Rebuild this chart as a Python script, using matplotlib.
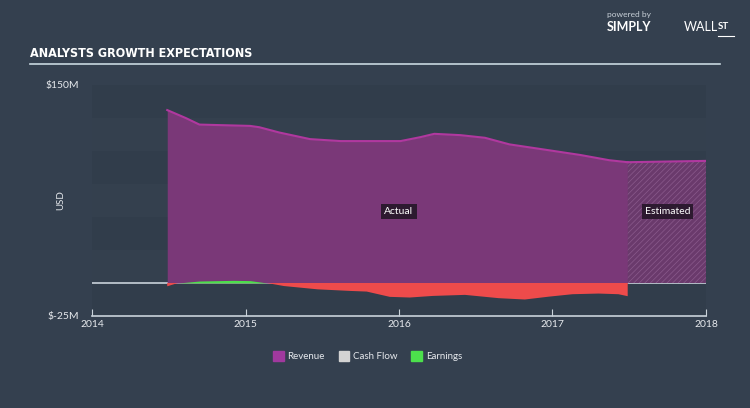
import matplotlib.pyplot as plt
from matplotlib import font_manager as fm
import numpy as np

# Revenue (USD millions), actual history and analyst estimate
rev_years = [2014.49, 2014.61, 2014.70, 2015.03, 2015.09, 2015.22, 2015.42, 2015.62,
             2016.01, 2016.14, 2016.23, 2016.40, 2016.56, 2016.72, 2016.98, 2017.18,
             2017.37, 2017.49]
rev_values = [131, 125, 120, 119, 118, 114, 109, 107.5,
              107.5, 110.5, 113, 112, 110, 105, 100.5, 97,
              93, 91.5]
est_years = [2017.49, 2018.0]
est_values = [91.5, 92.5]

# Earnings (USD millions)
earn_years = [2014.49, 2014.56, 2014.70, 2014.92, 2015.03, 2015.14, 2015.25, 2015.47,
              2015.68, 2015.79, 2015.94, 2016.07, 2016.22, 2016.43, 2016.65, 2016.82,
              2016.98, 2017.13, 2017.30, 2017.43, 2017.49]
earn_values = [-2.5, 0, 1.5, 2, 1.8, 0, -2.3, -4.8,
               -6, -6.5, -10.5, -11, -9.8, -9, -11.5, -12.5,
               -10.3, -8.5, -8, -8.5, -10]

year_ticks = [2014, 2015, 2016, 2017, 2018]
legend_names = ['Revenue', 'Cash Flow', 'Earnings']

BG = '#34404f'
REV_FILL = '#7a3878'
REV_LINE = '#b0389f'
EARN_NEG = '#ee4b4b'
EARN_POS = '#4ce04c'
TXT = '#e6e9ed'

plt.rcParams['font.family'] = ['Lato', 'DejaVu Sans']
plt.rcParams['hatch.linewidth'] = 0.5

# narrow font for the header, if one is around
narrow = [f.name for f in fm.fontManager.ttflist
          if ('Narrow' in f.name or 'Condensed' in f.name or f.stretch == 'condensed')]
if narrow:
    title_font = dict(family=narrow[0], stretch='condensed', fontsize=9)
else:
    title_font = dict(family=['Roboto', 'DejaVu Sans'], fontsize=8.5)

fig = plt.figure(figsize=(7.5, 4.08), dpi=100, facecolor=BG)
ax = fig.add_axes([0.1227, 0.2255, 0.8186, 0.5662])
ax.set_facecolor(BG)

ax.set_xlim(2014, 2018)
ax.set_ylim(-25, 150)

# alternating horizontal bands
for i, lo in enumerate(np.arange(-25, 150, 25)):
    ax.axhspan(lo, lo + 25, color='#313d4b' if i % 2 == 0 else '#34404e', lw=0, zorder=0)

ax.axhline(0, color='#c9d2da', lw=1.2, zorder=1)

ry = np.array(rev_years)
rv = np.array(rev_values)
ax.fill_between(ry, 0, rv, color=REV_FILL, lw=0, zorder=2)
ax.plot(ry, rv, color=REV_LINE, lw=1.5, zorder=3)

ey = np.array(est_years)
ev = np.array(est_values)
ax.fill_between(ey, 0, ev, facecolor='#6a3a6c', edgecolor='#8a5a8c', hatch='//////',
                lw=0, zorder=2)
ax.plot(ey, ev, color=REV_LINE, lw=1.5, zorder=3)

eyr = np.array(earn_years)
evl = np.array(earn_values)
ax.fill_between(eyr, 0, evl, where=evl <= 0, interpolate=True, color=EARN_NEG, lw=0, zorder=4)
ax.fill_between(eyr, 0, evl, where=evl >= 0, interpolate=True, color=EARN_POS, lw=0, zorder=4)

ax.text(2016.0, 54, 'Actual', color='white', fontsize=7.5, ha='center', va='center',
        bbox=dict(boxstyle='square,pad=0.3', fc='#2d1a30', ec='none'), zorder=6)
ax.text(2017.75, 54, 'Estimated', color='white', fontsize=7.5, ha='center', va='center',
        bbox=dict(boxstyle='square,pad=0.3', fc='#2d1a30', ec='none'), zorder=6)

for s in ['top', 'right', 'left']:
    ax.spines[s].set_visible(False)
ax.spines['bottom'].set_color('#c9d2da')
ax.spines['bottom'].set_linewidth(1.2)

ax.set_xticks(year_ticks)
ax.set_xticklabels([str(y) for y in year_ticks])
ax.tick_params(axis='x', direction='in', length=5, color='#c9d2da', colors=TXT,
               labelsize=7.5, pad=3)
ax.set_yticks([-25, 150])
ax.set_yticklabels(['$-25M', '$150M'])
ax.tick_params(axis='y', length=0, colors=TXT, labelsize=7.5, pad=9)
ax.set_ylabel('USD', color=TXT, fontsize=7)
ax.yaxis.set_label_coords(-0.044, 0.5)

# legend
handles = [plt.Rectangle((0, 0), 1, 1, color=c) for c in ['#a0399e', '#d3d3d3', EARN_POS]]
leg = fig.legend(handles, legend_names, loc='center', bbox_to_anchor=(0.49, 0.127), ncol=3,
                 frameon=False, fontsize=7, handlelength=1.1, handleheight=1.1,
                 handletextpad=0.4, columnspacing=1.4)
for t in leg.get_texts():
    t.set_color(TXT)

# header
fig.text(0.04, 0.87, 'ANALYSTS GROWTH EXPECTATIONS', color='white',
         fontweight='bold', va='center', **title_font)
fig.add_artist(plt.Line2D([0.04, 0.96], [0.843, 0.843], color='#c8d8e0', lw=1.2))
fig.text(0.809, 0.965, 'powered by', color='#c8d0d8', fontsize=6, va='center')
fig.text(0.809, 0.934, 'SIMPLY', color='white', fontsize=9, fontweight='bold', va='center')
fig.text(0.912, 0.934, 'WALL', color='white', fontsize=9, va='center')
fig.text(0.957, 0.934, 'ST', color='white', fontsize=7, fontweight='bold', va='center')
fig.add_artist(plt.Line2D([0.957, 0.979], [0.912, 0.912], color='white', lw=0.8))

fig.savefig('out.png', dpi=100, facecolor=BG)
